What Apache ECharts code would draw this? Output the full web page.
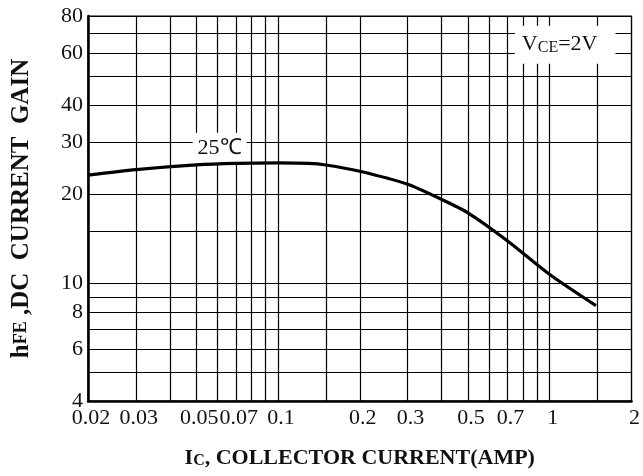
<!DOCTYPE html>
<html>
<head>
<meta charset="utf-8">
<script src="https://cdn.jsdelivr.net/npm/echarts@6/dist/echarts.min.js"></script>
<style>
html,body{margin:0;padding:0;background:#fff;}
#chart{width:643px;height:476px;}
</style>
</head>
<body>
<div id="chart"></div>
<script>
// Collector current (A) and DC current gain at 25°C, VCE = 2V
const currentA = [0.02, 0.03, 0.05, 0.07, 0.1, 0.13, 0.15, 0.2, 0.3, 0.4, 0.5, 0.7, 1.0, 1.48];
const hFE      = [23.2, 24.2, 25.1, 25.4, 25.5, 25.4, 25.1, 23.9, 21.6, 19.2, 17.3, 13.9, 10.7, 8.4];

// Grid lines (log chart paper) and tick labels
const xGrid = [0.02, 0.03, 0.04, 0.05, 0.06, 0.07, 0.08, 0.09, 0.1, 0.15, 0.2, 0.3, 0.4, 0.5, 0.6, 0.7, 0.8, 0.9, 1, 1.5, 2];
const yGrid = [4, 5, 6, 7, 8, 9, 10, 15, 20, 30, 40, 50, 60, 70, 80];
const xTickLabels = ['0.02', '0.03', '0.05', '0.07', '0.1', '0.2', '0.3', '0.5', '0.7', '1', '2'];
const yTickLabels = ['4', '6', '8', '10', '20', '30', '40', '60', '80'];

// Annotations (anchored in data coordinates)
const tempLabel = { text: '25℃', at: [0.061, 28.6] };
const vceLabel = { at: [1.14, 64] };

const L = v => Math.log10(v);
const FONT = '"Liberation Serif", "Times New Roman", serif';

function labelFor(list) {
  return function (v) {
    for (const s of list) { if (Math.abs(L(parseFloat(s)) - v) < 1e-6) return s; }
    return '';
  };
}

const chart = echarts.init(document.getElementById('chart'), null, { renderer: 'canvas' });
chart.setOption({
  animation: false,
  backgroundColor: '#fff',
  grid: { left: 88, right: 7, top: 16, bottom: 75, show: true, borderColor: '#000', borderWidth: 1.2 },
  xAxis: {
    type: 'value',
    min: L(xGrid[0]), max: L(xGrid[xGrid.length - 1]),
    axisLine: { show: true, onZero: false, lineStyle: { color: '#000', width: 2.5 } },
    axisTick: { show: false, customValues: xGrid.map(L) },
    splitLine: { show: true, lineStyle: { color: '#000', width: 1.2 } },
    axisLabel: {
      customValues: xTickLabels.map(s => L(parseFloat(s))),
      formatter: labelFor(xTickLabels),
      color: '#111', fontFamily: FONT, fontSize: 22, margin: 6, padding: [0, 0, 0, 6],
      showMinLabel: true, showMaxLabel: true
    },
    name: '{big|I}{small|C}{big|, COLLECTOR CURRENT(AMP)}',
    nameLocation: 'middle', nameGap: 46,
    nameTextStyle: {
      rich: {
        big: { fontFamily: FONT, fontWeight: 'bold', fontSize: 22, color: '#111' },
        small: { fontFamily: FONT, fontWeight: 'bold', fontSize: 16, color: '#111', verticalAlign: 'bottom' }
      }
    }
  },
  yAxis: {
    type: 'value',
    min: L(yGrid[0]), max: L(yGrid[yGrid.length - 1]),
    axisLine: { show: true, onZero: false, lineStyle: { color: '#000', width: 2.5 } },
    axisTick: { show: false, customValues: yGrid.map(L) },
    splitLine: { show: true, lineStyle: { color: '#000', width: 1.2 } },
    axisLabel: {
      customValues: yTickLabels.map(s => L(parseFloat(s))),
      formatter: labelFor(yTickLabels),
      color: '#111', fontFamily: FONT, fontSize: 22, margin: 5, showMinLabel: true, showMaxLabel: true
    },
    name: '{big|h}{small|FE}{big| ,DC  CURRENT  GAIN}',
    nameLocation: 'middle', nameGap: 54, nameRotate: 90,
    nameTextStyle: {
      rich: {
        big: { fontFamily: FONT, fontWeight: 'bold', fontSize: 25, color: '#111' },
        small: { fontFamily: FONT, fontWeight: 'bold', fontSize: 18, color: '#111' }
      }
    }
  },
  series: [{
    type: 'line',
    data: currentA.map((x, i) => [L(x), L(hFE[i])]),
    smooth: 0.25,
    symbol: 'none',
    lineStyle: { color: '#000', width: 3.2 },
    z: 5,
    markPoint: {
      silent: true,
      symbol: 'rect', symbolSize: 0,
      data: [
        {
          coord: [L(tempLabel.at[0]), L(tempLabel.at[1])],
          label: {
            show: true, formatter: tempLabel.text, position: 'inside',
            fontFamily: FONT, fontSize: 22, color: '#111',
            backgroundColor: '#fff', padding: [5, 5, 4, 5]
          }
        },
        {
          coord: [L(vceLabel.at[0]), L(vceLabel.at[1])],
          label: {
            show: true, position: 'inside',
            formatter: '{v|V}{s|CE}{v|=2V}',
            backgroundColor: '#fff', padding: [8, 18, 8, 7],
            rich: {
              v: { fontFamily: FONT, fontSize: 22, color: '#111' },
              s: { fontFamily: FONT, fontSize: 16, color: '#111', verticalAlign: 'bottom' }
            }
          }
        }
      ]
    }
  }]
});
</script>
</body>
</html>
